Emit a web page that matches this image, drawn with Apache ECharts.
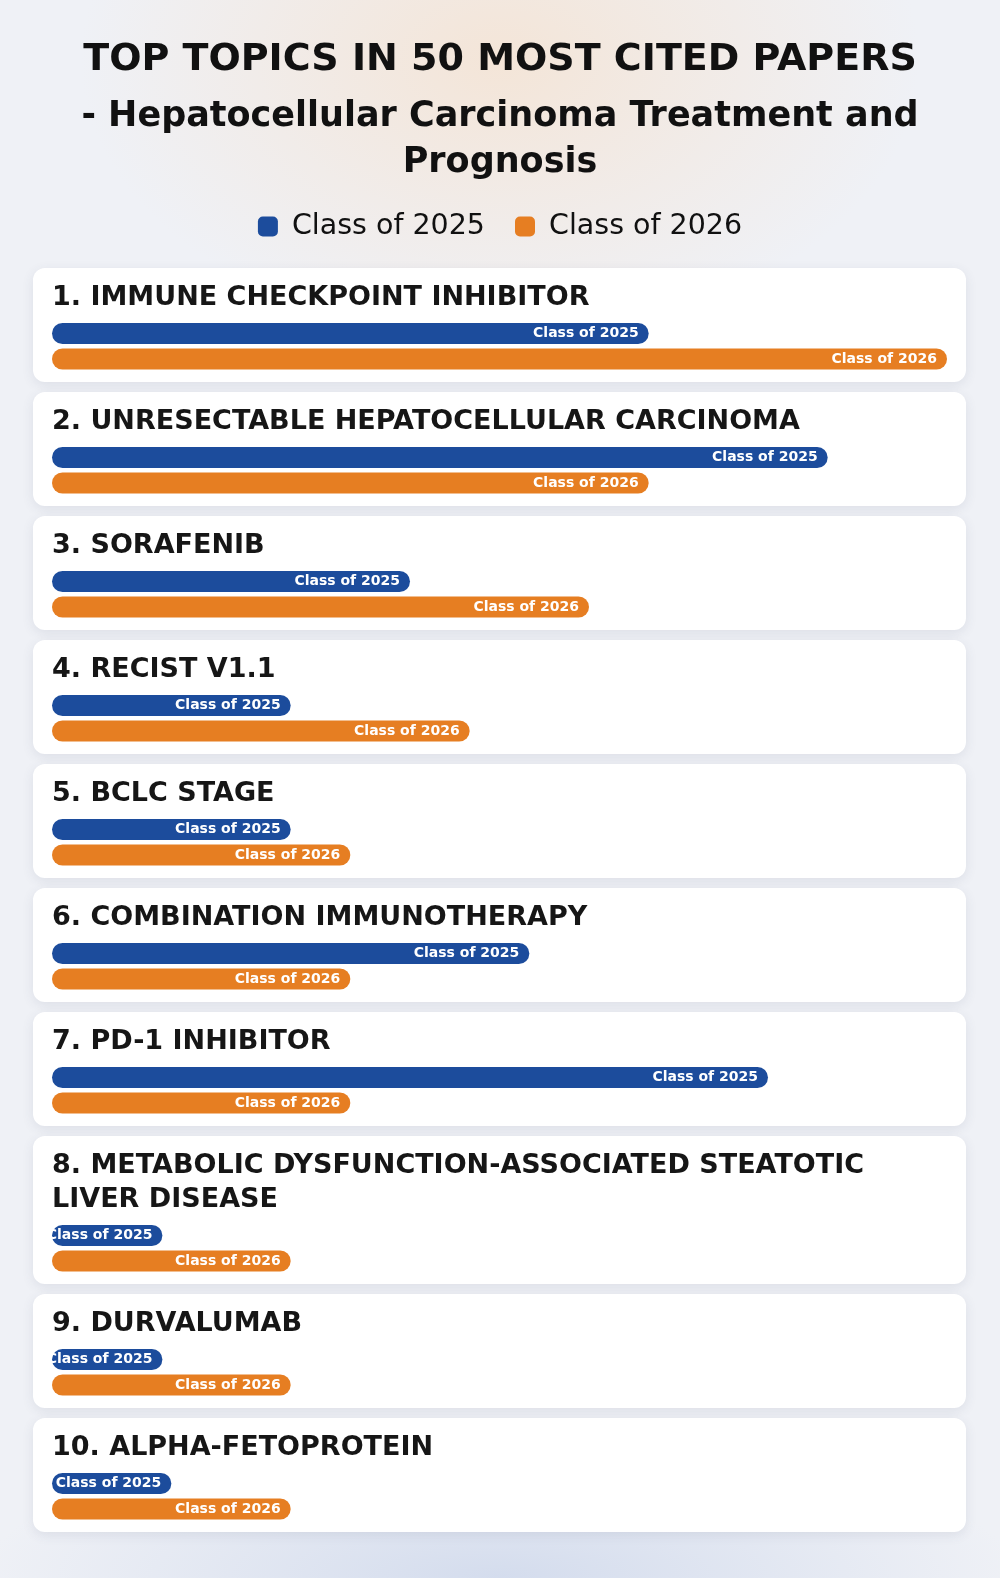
<!DOCTYPE html>
<html>
<head>
<meta charset="utf-8">
<script src="https://cdn.jsdelivr.net/npm/echarts@6/dist/echarts.min.js"></script>
<style>
html,body{margin:0;padding:0;}
body{width:1000px;height:1578px;overflow:hidden;
background:
 radial-gradient(ellipse 420px 280px at 500px 60px, rgba(245,226,208,0.8), rgba(245,226,208,0) 100%),
 radial-gradient(ellipse 520px 140px at 500px 1578px, rgba(205,215,235,0.8), rgba(205,215,235,0) 100%),
 #eff1f6;}
#chart{width:1000px;height:1578px;}
</style>
</head>
<body>
<div id="chart"></div>
<script>
const mainTitle = 'TOP TOPICS IN 50 MOST CITED PAPERS';
const subTitle = '- Hepatocellular Carcinoma Treatment and\nPrognosis';
const topics = [
  '1. IMMUNE CHECKPOINT INHIBITOR',
  '2. UNRESECTABLE HEPATOCELLULAR CARCINOMA',
  '3. SORAFENIB',
  '4. RECIST V1.1',
  '5. BCLC STAGE',
  '6. COMBINATION IMMUNOTHERAPY',
  '7. PD-1 INHIBITOR',
  '8. METABOLIC DYSFUNCTION-ASSOCIATED STEATOTIC\nLIVER DISEASE',
  '9. DURVALUMAB',
  '10. ALPHA-FETOPROTEIN'
];
const seriesNames = ['Class of 2025', 'Class of 2026'];
const class2025 = [10, 13, 6, 4, 4, 8, 12, 1.85, 1.85, 2];
const class2026 = [15, 10, 9, 7, 5, 5, 5, 4, 4, 4];
const axisMax = 15;

const colors = ['#1c4c9c', '#e67e22'];
const FONT = 'DejaVu Sans';

const chart = echarts.init(document.getElementById('chart'), null, {renderer: 'canvas'});

const grids = [], xAxes = [], yAxes = [], seriesList = [], graphics = [];

graphics.push({
  type: 'text', z: 5, x: 500, y: 60,
  style: {text: mainTitle, font: 'bold 38px "' + FONT + '"', fill: '#111111', textAlign: 'center', textVerticalAlign: 'middle'}
});
graphics.push({
  type: 'text', z: 5, x: 500, y: 140,
  style: {text: subTitle, font: 'bold 35px "' + FONT + '"', fill: '#111111', textAlign: 'center', textVerticalAlign: 'middle', lineHeight: 46}
});

let cardTop = 268;
const cardGap = 10;
topics.forEach((t, i) => {
  const lines = t.split('\n').length;
  const extra = (lines - 1) * 34;
  const h = 114 + extra;
  graphics.push({
    type: 'rect', z: -5,
    shape: {x: 33, y: cardTop, width: 933, height: h, r: 12},
    style: {fill: '#ffffff', shadowBlur: 12, shadowColor: 'rgba(60,70,100,0.10)', shadowOffsetY: 3}
  });
  graphics.push({
    type: 'text', z: 5,
    x: 52, y: cardTop + 30 + extra / 2,
    style: {text: t, font: 'bold 27px "' + FONT + '"', fill: '#161616', textVerticalAlign: 'middle', lineHeight: 34}
  });
  graphics.push({
    type: 'rect', z: 50,
    shape: {x: 34, y: cardTop + 48 + extra, width: 17.5, height: 58},
    style: {fill: '#ffffff'}
  });
  grids.push({left: 52, width: 895, top: cardTop + 52.75 + extra, height: 51, containLabel: false});
  xAxes.push({type: 'value', gridIndex: i, min: 0, max: axisMax, show: false});
  yAxes.push({type: 'category', gridIndex: i, data: seriesNames, inverse: true, show: false});
  [class2025, class2026].forEach((arr, k) => {
    const d = k === 0 ? [arr[i], '-'] : ['-', arr[i]];
    seriesList.push({
      type: 'bar', name: seriesNames[k],
      xAxisIndex: i, yAxisIndex: i,
      data: d, barWidth: 21, barGap: '-100%',
      itemStyle: {color: colors[k], borderRadius: 10.5},
      label: {
        show: true, position: 'insideRight', distance: 10,
        formatter: seriesNames[k], color: '#ffffff',
        fontFamily: FONT, fontWeight: 'bold', fontSize: 14
      },
      silent: true, animation: false
    });
  });
  cardTop += h + cardGap;
});

chart.setOption({
  animation: false,
  backgroundColor: 'transparent',
  legend: {
    top: 207, left: 'center', itemWidth: 20, itemHeight: 20, itemGap: 30,
    icon: 'roundRect', selectedMode: false,
    data: seriesNames,
    textStyle: {fontFamily: FONT, fontSize: 28.5, color: '#111111', padding: [0, 0, 0, 9]}
  },
  grid: grids, xAxis: xAxes, yAxis: yAxes, series: seriesList,
  graphic: graphics
});
</script>
</body>
</html>
